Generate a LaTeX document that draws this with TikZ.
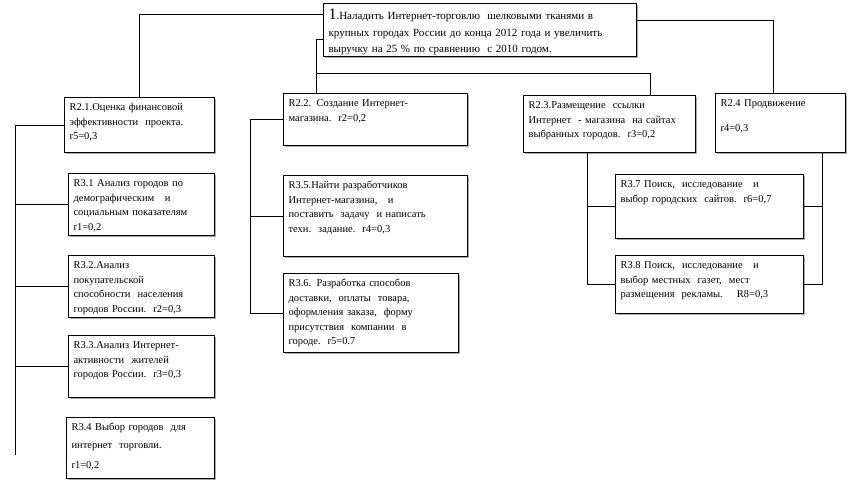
\documentclass[tikz,border=0pt]{standalone}
\usepackage{fontspec}
\setmainfont{Liberation Serif}
\usetikzlibrary{positioning, calc, shadows}

\begin{document}
\begin{tikzpicture}[
  x=1pt, y=-1pt,
  % ── Style definitions ──
  goal/.style={
    rectangle, draw=black, line width=1.1pt, fill=white,
    anchor=north west, align=left,
    inner xsep=5pt, inner ysep=4pt, text height=9pt,
    font=\fontsize{10.5}{14.5}\selectfont,
    drop shadow={shadow xshift=1.6pt, shadow yshift=-1.6pt,
                 opacity=0.55, fill=black!60}
  },
  topgoal/.style={goal, text height=12pt, font=\fontsize{11}{16.5}\selectfont},
  link/.style={draw=black, line width=0.8pt}
]
\useasboundingbox (0,0) rectangle (850,490);

% ─────────── Main goal ───────────────────────────────────────
\node[topgoal, text width=303pt, text depth=33pt] (goal) at (323,3)
  {{\fontsize{16}{16}\selectfont 1}.Наладить Интернет-торговлю\ \ шелковыми тканями в\\
   крупных городах России до конца 2012 года и увеличить\\
   выручку на 25~\% по сравнению\ \ с 2010 годом.};

% ─────────── Second level ────────────────────────────────────
\node[goal, text width=140pt, text depth=38pt] (r21) at (64,97)
  {R2.1.Оценка финансовой\\эффективности\ \ проекта.\\r5=0,3};
\node[goal, text width=174pt, text depth=35pt] (r22) at (283,93)
  {R2.2. Создание Интернет-\\магазина.\ \ r2=0,2};
\node[goal, text width=162pt, text depth=40pt] (r23) at (523,95)
  {R2.3.Размещение\ \ ссылки\\Интернет\ \ - магазина\ \ на сайтах\\выбранных городов.\ \ r3=0,2};
\node[goal, text width=120pt, text depth=42pt] (r24) at (715,93)
  {R2.4 Продвижение\\[10pt]r4=0,3};

% ─────────── Third level: column 1 ───────────────────────────
\node[goal, text width=136pt, text depth=45pt] (r31) at (68,173)
  {R3.1 Анализ городов по\\демографическим\ \ \ и\\социальным показателям\\r1=0,2};
\node[goal, text width=136pt, text depth=45pt] (r32) at (68,255)
  {R3.2.Анализ\\покупательской\\способности\ \ населения\\городов России.\ \ r2=0,3};
\node[goal, text width=136pt, text depth=45pt] (r33) at (68,335)
  {R3.3.Анализ Интернет-\\активности\ \ жителей\\городов России.\ \ r3=0,3};
\node[goal, text width=138pt, text depth=44pt] (r34) at (66,417)
  {R3.4 Выбор городов\ \ для\\[3.5pt]интернет\ \ торговли.\\[5.5pt]r1=0,2};

% ─────────── Third level: column 2 ───────────────────────────
\node[goal, text width=174pt, text depth=64pt] (r35) at (283,175)
  {R3.5.Найти разработчиков\\Интернет-магазина,\ \ \ и\\поставить\ \ задачу\ \ и написать\\техн.\ \ задание.\ \ r4=0,3};
\node[goal, text width=165pt, text depth=62pt] (r36) at (283,273)
  {R3.6. Разработка способов\\доставки,\ \ оплаты\ \ товара,\\оформления заказа,\ \ форму\\присутствия\ \ компании\ \ в\\городе.\ \ r5=0.7};

% ─────────── Third level: columns 3--4 ───────────────────────
\node[goal, text width=178pt, text depth=47pt] (r37) at (615,174)
  {R3.7 Поиск,\ \ исследование\ \ \ и\\выбор городских\ \ сайтов.\ \ r6=0,7};
\node[goal, text width=178pt, text depth=41pt] (r38) at (615,255)
  {R3.8 Поиск,\ \ исследование\ \ \ и\\выбор местных\ \ газет,\ \ мест\\размещения\ \ рекламы.\ \ \ \ R8=0,3};

% ─────────── Goal -> second level ────────────────────────────
\draw[link] ([yshift=-11pt]goal.north west) -| (r21.north);
\draw[link] ([yshift=-17pt]goal.north east) -| ([xshift=-7pt]r24.north);
\draw[link] ([yshift=-36pt]goal.north west) -| ([xshift=-59pt]r22.north);
\coordinate (split) at (316,73);
\draw[link] (split) -| ([xshift=41pt]r23.north);

% ─────────── Spines to third level ───────────────────────────
\coordinate (lspine) at (15,455);
\draw[link] (r21.west) -| (lspine);
\foreach \n in {r31, r32, r33}
  \draw[link] (lspine |- \n.west) -- (\n.west);

\coordinate[left=33pt of r22.west] (mspine);
\draw[link] (r22.west) -- (mspine) |- (r36.west);
\draw[link] (mspine |- r35.west) -- (r35.west);

\coordinate[left=22pt of r23.south] (cspine);
\draw[link] (cspine) |- (r38.west);
\draw[link] (cspine |- r37.west) -- (r37.west);

\coordinate[right=42pt of r24.south] (rspine);
\draw[link] (rspine) |- (r38.east);
\draw[link] (rspine |- r37.east) -- (r37.east);
\end{tikzpicture}
\end{document}
